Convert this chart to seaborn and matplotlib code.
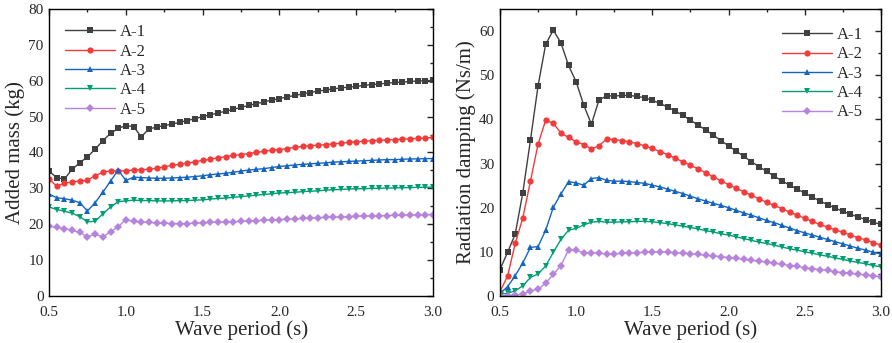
import numpy as np
import pandas as pd
import seaborn as sns
import matplotlib.pyplot as plt
from matplotlib.ticker import MultipleLocator

periodo = np.round(np.arange(0.5, 3.0001, 0.05), 2)
series = ['A-1', 'A-2', 'A-3', 'A-4', 'A-5']

# massa adicional (kg)
massa_a1 = [34.8, 33.0, 32.6, 35.3, 37.1, 38.8, 40.9, 43.3, 45.3, 46.7, 47.5, 47.2, 44.4, 46.5, 47.1,
            47.5, 47.9, 48.4, 48.9, 49.4, 50.0, 50.5, 51.0, 51.5, 52.0, 52.6, 53.1, 53.6, 54.1, 54.6,
            55.0, 55.5, 55.9, 56.3, 56.7, 57.1, 57.4, 57.7, 58.0, 58.2, 58.4, 58.7, 58.9, 59.1, 59.3,
            59.5, 59.6, 59.8, 59.9, 60.0, 60.1]
massa_a2 = [32.6, 30.6, 31.4, 31.8, 32.0, 32.3, 33.5, 34.5, 34.9, 34.8, 34.9, 35.1, 35.2, 35.3, 35.6,
            36.0, 36.4, 36.7, 37.0, 37.4, 37.8, 38.1, 38.5, 38.8, 39.2, 39.4, 39.7, 40.0, 40.3, 40.6,
            40.8, 41.1, 41.4, 41.7, 41.9, 42.0, 42.2, 42.4, 42.6, 42.8, 43.0, 43.1, 43.3, 43.4, 43.5,
            43.6, 43.7, 43.8, 43.9, 44.0, 44.2]
massa_a3 = [28.4, 27.4, 27.1, 26.7, 26.0, 23.7, 26.0, 28.9, 32.0, 35.1, 32.2, 33.1, 33.0, 32.9, 32.8,
            32.8, 32.9, 33.0, 33.1, 33.3, 33.5, 33.8, 34.0, 34.2, 34.5, 34.8, 35.1, 35.3, 35.5, 35.8,
            36.1, 36.3, 36.5, 36.7, 36.8, 37.0, 37.1, 37.3, 37.4, 37.5, 37.6, 37.7, 37.8, 37.9, 38.0,
            38.0, 38.1, 38.2, 38.2, 38.3, 38.3]
massa_a4 = [24.8, 24.1, 23.6, 23.1, 22.1, 20.7, 20.8, 22.9, 24.8, 26.3, 26.5, 26.7, 26.6, 26.6, 26.5,
            26.5, 26.5, 26.6, 26.6, 26.7, 26.8, 27.0, 27.2, 27.3, 27.5, 27.7, 27.9, 28.1, 28.3, 28.5,
            28.7, 28.8, 28.9, 29.1, 29.2, 29.3, 29.5, 29.6, 29.7, 29.8, 29.9, 29.9, 30.0, 30.0, 30.1,
            30.1, 30.2, 30.2, 30.3, 30.3, 30.4]
massa_a5 = [19.4, 19.1, 18.8, 18.3, 17.7, 16.5, 17.2, 16.5, 17.9, 19.3, 21.3, 20.8, 20.6, 20.5, 20.3,
            20.3, 20.2, 20.2, 20.2, 20.3, 20.4, 20.5, 20.6, 20.6, 20.7, 20.8, 20.9, 21.0, 21.1, 21.2,
            21.3, 21.4, 21.5, 21.6, 21.7, 21.8, 21.9, 22.0, 22.0, 22.1, 22.2, 22.3, 22.3, 22.4, 22.4,
            22.5, 22.5, 22.6, 22.6, 22.7, 22.7]

# amortecimento de radiacao (Ns/m)
amort_a1 = [6.0, 9.9, 14.0, 23.4, 35.3, 47.6, 57.0, 60.2, 57.3, 52.2, 48.5, 43.2, 38.9, 44.4, 45.3,
            45.3, 45.4, 45.4, 45.2, 44.9, 44.3, 43.6, 42.8, 41.9, 40.9, 39.8, 38.7, 37.6, 36.4, 35.2,
            34.0, 32.8, 31.6, 30.4, 29.3, 28.2, 27.1, 26.1, 25.1, 24.2, 23.3, 22.4, 21.5, 20.7, 19.9,
            19.2, 18.5, 17.9, 17.3, 16.7, 16.2]
amort_a2 = [1.0, 4.5, 11.9, 17.7, 26.0, 34.4, 39.8, 39.1, 36.9, 35.9, 34.9, 34.3, 33.3, 34.0, 35.6,
            35.4, 35.2, 34.9, 34.5, 34.0, 33.4, 32.7, 32.0, 31.2, 30.4, 29.6, 28.8, 27.9, 27.0, 26.1,
            25.2, 24.4, 23.6, 22.8, 22.0, 21.2, 20.5, 19.8, 19.0, 18.3, 17.6, 16.9, 16.2, 15.6, 15.0,
            14.4, 13.8, 13.2, 12.7, 12.1, 11.5]
amort_a3 = [0.6, 2.1, 4.6, 7.5, 11.0, 11.2, 14.9, 20.1, 23.1, 25.9, 25.6, 25.1, 26.6, 26.8, 26.2,
            26.0, 26.0, 25.9, 25.7, 25.5, 25.1, 24.7, 24.2, 23.7, 23.2, 22.6, 22.0, 21.5, 21.0, 20.5,
            20.0, 19.4, 18.8, 18.3, 17.7, 17.1, 16.6, 16.0, 15.4, 14.8, 14.3, 13.8, 13.3, 12.8, 12.3,
            11.8, 11.3, 10.8, 10.4, 9.9, 9.5]
amort_a4 = [0.4, 0.6, 1.2, 2.3, 4.2, 5.0, 6.8, 9.9, 12.8, 14.9, 15.3, 16.1, 16.7, 16.9, 16.7,
            16.7, 16.8, 16.8, 16.9, 16.9, 16.8, 16.6, 16.4, 16.1, 15.8, 15.5, 15.2, 14.8, 14.5, 14.1,
            13.8, 13.4, 13.0, 12.6, 12.2, 11.9, 11.5, 11.1, 10.7, 10.4, 10.0, 9.7, 9.3, 9.0, 8.6,
            8.3, 7.9, 7.6, 7.3, 6.9, 6.6]
amort_a5 = [0.1, 0.1, 0.2, 0.4, 1.2, 1.5, 2.9, 4.9, 6.9, 10.4, 10.4, 9.7, 9.7, 9.8, 9.4,
            9.5, 9.7, 9.7, 9.8, 9.9, 10.0, 10.0, 9.9, 9.8, 9.7, 9.6, 9.4, 9.2, 9.1, 8.9,
            8.7, 8.5, 8.3, 8.1, 7.9, 7.7, 7.4, 7.2, 6.9, 6.7, 6.4, 6.2, 6.0, 5.8, 5.5,
            5.3, 5.1, 4.9, 4.8, 4.6, 4.4]

cores = {'A-1': '#404040', 'A-2': '#f23c3c', 'A-3': '#1565c0', 'A-4': '#009e73', 'A-5': '#b784dc'}
marcadores = {'A-1': 's', 'A-2': 'o', 'A-3': '^', 'A-4': 'v', 'A-5': 'D'}


def montar_df(listas):
    partes = []
    for nome, valores in zip(series, listas):
        partes.append(pd.DataFrame({'periodo': periodo, 'valor': valores, 'serie': nome}))
    return pd.concat(partes, ignore_index=True)


def desenhar(ax, df, ylabel, ylim, ymaior, yminor, leg_loc, leg_anchor):
    sns.lineplot(data=df, x='periodo', y='valor', hue='serie', style='serie',
                 palette=cores, markers=marcadores, dashes=False, ax=ax,
                 linewidth=1.0, markersize=4.5, markeredgewidth=0)
    ax.set_xlim(0.5, 3.0)
    ax.set_ylim(*ylim)
    ax.xaxis.set_major_locator(MultipleLocator(0.5))
    ax.xaxis.set_minor_locator(MultipleLocator(0.25))
    ax.yaxis.set_major_locator(MultipleLocator(ymaior))
    ax.yaxis.set_minor_locator(MultipleLocator(yminor))
    ax.xaxis.set_major_formatter(plt.FormatStrFormatter('%.1f'))
    ax.tick_params(which='both', direction='in', top=True, right=True, labelsize=11, width=1.0)
    ax.tick_params(axis='x', pad=7)
    ax.tick_params(axis='y', pad=4)
    ax.tick_params(which='major', length=4.5)
    ax.tick_params(which='minor', length=2.5)
    for s in ax.spines.values():
        s.set_linewidth(1.0)
        s.set_color('black')
    ax.set_xlabel('Wave period (s)', fontsize=15, labelpad=1)
    ax.set_ylabel(ylabel, fontsize=15, labelpad=2)
    handles, labels = ax.get_legend_handles_labels()
    ax.legend(handles, labels, loc=leg_loc, bbox_to_anchor=leg_anchor, frameon=False,
              fontsize=12, handlelength=3.0, handletextpad=0.3, labelspacing=0.2,
              borderaxespad=0)


sns.set_style('white')
plt.rcParams['font.family'] = ['Liberation Serif', 'DejaVu Serif']
plt.rcParams['mathtext.fontset'] = 'stix'

fig = plt.figure(figsize=(8.92, 3.43), dpi=100)
ax1 = fig.add_axes([0.055, 0.137, 0.4305, 0.837])
ax2 = fig.add_axes([0.5605, 0.137, 0.4271, 0.837])

desenhar(ax1, montar_df([massa_a1, massa_a2, massa_a3, massa_a4, massa_a5]),
         'Added mass (kg)', (0, 80), 10, 5, 'upper left', (0.025, 0.97))
desenhar(ax2, montar_df([amort_a1, amort_a2, amort_a3, amort_a4, amort_a5]),
         'Radiation damping (Ns/m)', (0, 65), 10, 5, 'upper right', (0.97, 0.96))

plt.savefig('out.png', dpi=100)
